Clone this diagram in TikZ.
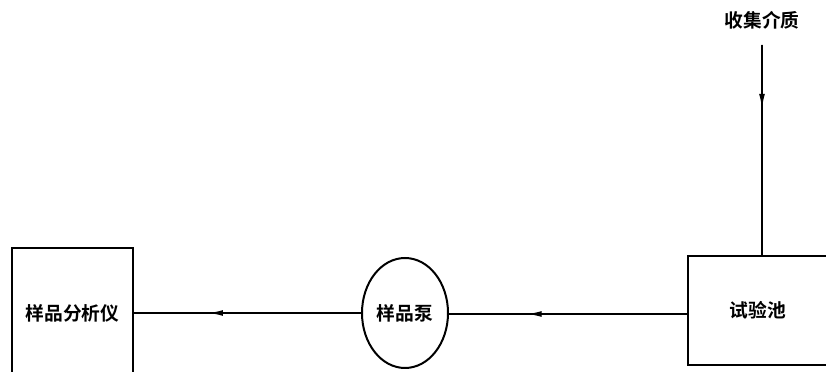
\documentclass[tikz,border=0pt]{standalone}
\usepackage{fontspec}
\newfontfamily\cjk{Noto Sans CJK SC}[BoldFont={Noto Sans CJK SC Bold}]
\usetikzlibrary{arrows.meta, calc, shapes.geometric}

\tikzset{
  box/.style={draw, line width=1.7pt, inner sep=0pt},
  flow/.style={line width=1pt, -{Latex[length=12pt, width=5pt]}},
}

\begin{document}
\begin{tikzpicture}[x=0.03cm, y=-0.03cm, font=\cjk\bfseries\fontsize{16}{19}\selectfont]
    \useasboundingbox (0,0) rectangle (826,372);
    \clip (0,0) rectangle (826,372);
    \node[box, rectangle, minimum width=3.63cm, minimum height=4.2cm] (analyzer) at (72.5,318) {};
    \node (analyzertext) at (72.5,313) {样品分析仪};
    \node[box, ellipse, minimum width=2.58cm, minimum height=3.3cm] (pump) at (405,313) {样品泵};
    \node[box, rectangle, minimum width=4.2cm, minimum height=3.27cm] (pool) at (758,310.5) {试验池};
    \node (medium) at (762,20) {收集介质};
    \coordinate (feed) at (762,45);
    % lines with an arrow part way along
    \draw[line width=1pt] (feed) -- (feed |- pool.north);
    \draw[flow] (feed) -- ($(feed)!0.3!(feed |- pool.north)$);
    \draw[line width=1pt] (pool.west |- 0,314) -- (pump.east |- 0,314);
    \draw[flow] (pool.west |- 0,314) -- ($(pool.west |- 0,314)!0.67!(pump.east |- 0,314)$);
    \draw[line width=1pt] (pump.west) -- (analyzer.east |- pump.west);
    \draw[flow] (pump.west) -- ($(pump.west)!0.67!(analyzer.east |- pump.west)$);
\end{tikzpicture}
\end{document}
